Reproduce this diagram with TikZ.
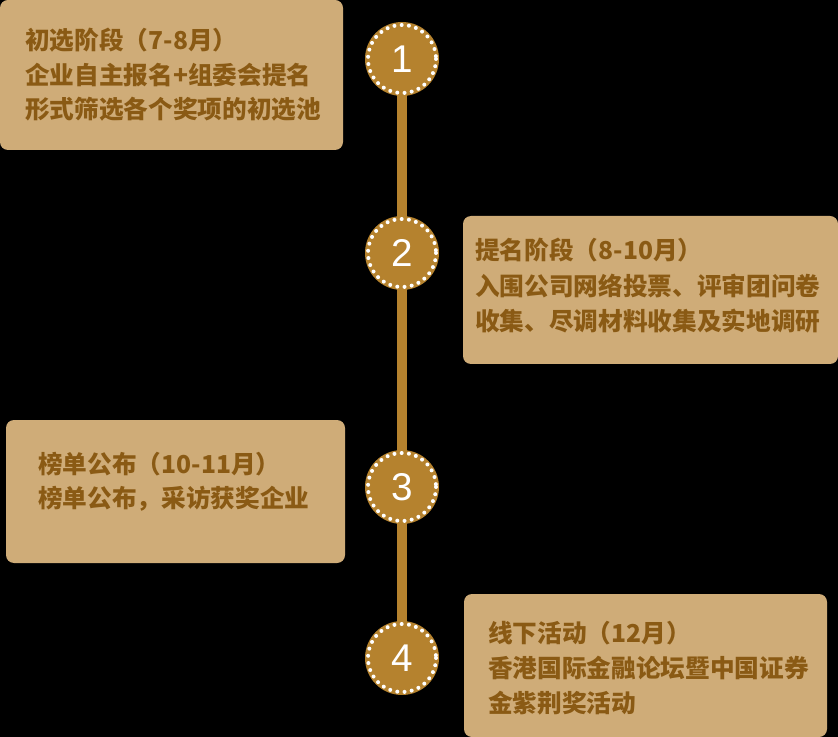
\documentclass[tikz,border=0pt]{standalone}
\usepackage{fontspec}
\setmainfont{Liberation Sans}
\newfontfamily\cjk{Noto Sans CJK SC}
\definecolor{boxfill}{RGB}{207,172,120}
\definecolor{txtbrown}{RGB}{138,90,20}
\definecolor{gold}{RGB}{181,130,46}
\begin{document}
\begin{tikzpicture}[x=0.75pt,y=-0.75pt,
  card/.style={fill=boxfill,rounded corners=6pt},
  line/.style={anchor=west,inner sep=0pt,text=txtbrown,font=\cjk\bfseries\fontsize{18.5pt}{22pt}\selectfont},
  badge/.style={circle,fill=gold,minimum size=55.5pt,inner sep=0pt,text=white,font=\fontsize{29pt}{32pt}\selectfont},
  dots/.style={draw=white,line width=3pt,dash pattern=on 0pt off 5.45pt,line cap=round},
  stem/.style={draw=gold,line width=7.5pt}]
\fill[black] (0,0) rectangle (838,737);
\useasboundingbox (0,0) rectangle (838,737);
% cards
\fill[card] (0,0) rectangle (343,150);
\fill[card] (463,216) rectangle (838,364);
\fill[card] (6,420) rectangle (345,563);
\fill[card] (464,594) rectangle (827,737);
% timeline
\coordinate (p1) at (402,59);
\coordinate (p2) at (402,253);
\coordinate (p3) at (402,487);
\coordinate (p4) at (402,658);
\draw[stem] (p1) -- (p4);
\node[badge] (c1) at (p1) {1};
\node[badge] (c2) at (p2) {2};
\node[badge] (c3) at (p3) {3};
\node[badge] (c4) at (p4) {4};
\foreach \n in {c1,c2,c3,c4}{
  \draw[dots] (\n.center) circle (34);
}
% texts
\node[line] (t1a) at (25,40) {初选阶段（7-8月）};
\node[line] (t1b) at (25,75) {企业自主报名+组委会提名};
\node[line] (t1c) at (25,109) {形式筛选各个奖项的初选池};
\node[line] (t2a) at (475,250) {提名阶段（8-10月）};
\node[line] (t2b) at (475,286) {入围公司网络投票、评审团问卷};
\node[line] (t2c) at (475,321) {收集、尽调材料收集及实地调研};
\node[line] (t3a) at (38,464) {榜单公布（10-11月）};
\node[line] (t3b) at (38,499) {榜单公布，采访获奖企业};
\node[line] (t4a) at (488,633) {线下活动（12月）};
\node[line] (t4b) at (488,668) {香港国际金融论坛暨中国证券};
\node[line] (t4c) at (488,703) {金紫荆奖活动};
\end{tikzpicture}
\end{document}
